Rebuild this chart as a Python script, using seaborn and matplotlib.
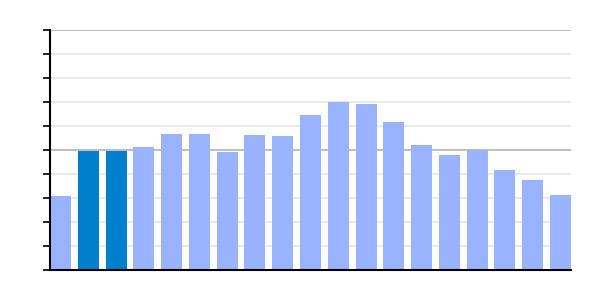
import matplotlib
matplotlib.use("Agg")
import matplotlib.pyplot as plt
import seaborn as sns
import pandas as pd

categories = [f"c{i}" for i in range(19)]
values = [3.08, 4.97, 4.97, 5.12, 5.67, 5.67, 4.92, 5.62, 5.58, 6.46,
          7.0, 6.92, 6.17, 5.21, 4.79, 5.0, 4.17, 3.75, 3.12]
highlight = [False, True, True] + [False] * 16

light = "#99b3ff"
dark = "#0080cc"

sns.set_style("white")
df = pd.DataFrame({"cat": categories, "val": values})
palette = [dark if h else light for h in highlight]

fig = plt.figure(figsize=(6, 3), dpi=100)
ax = fig.add_axes([50 / 600, 30 / 300, 521 / 600, 240 / 300])

for y in range(1, 11):
    ax.axhline(y, color="#b3b3b3" if y % 5 == 0 else "#e6e6e6", lw=1.2, zorder=0.5)

sns.barplot(data=df, x="cat", y="val", hue="cat", palette=palette, legend=False,
            width=0.756, saturation=1, ax=ax)
for p in ax.patches:
    p.set_zorder(2)
    p.set_edgecolor("none")
    p.set_linewidth(0)

ax.set_xlim(-0.378, 18.378)
ax.set_ylim(0, 10)
ax.set_yticks(range(0, 11))
ax.set_yticklabels([])
ax.set_xticks([])
ax.set_xlabel("")
ax.set_ylabel("")
ax.tick_params(axis="y", left=True, length=5, width=1.2, color="black", direction="out")
for s in ["top", "right"]:
    ax.spines[s].set_visible(False)
for s in ["left", "bottom"]:
    ax.spines[s].set_color("black")
    ax.spines[s].set_linewidth(1.5)
    ax.spines[s].set_zorder(3)

fig.savefig("out.png", dpi=100)
